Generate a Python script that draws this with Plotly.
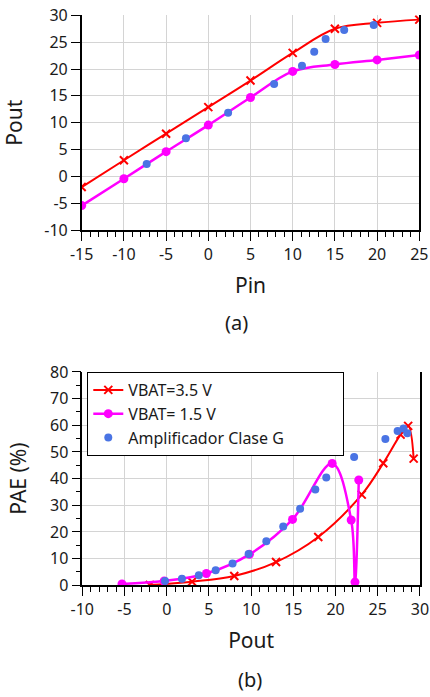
import plotly.graph_objects as go

# ---------------- (a) Pout vs Pin ----------------
pin = [-15, -10, -5, 0, 5, 10, 15, 20, 25]
pout_35 = [-2.0, 3.0, 7.95, 12.9, 17.85, 23.0, 27.5, 28.6, 29.2]
pout_15 = [-5.45, -0.45, 4.6, 9.55, 14.7, 19.55, 20.85, 21.7, 22.6]
pin_g = [-7.3, -2.65, 2.35, 7.8, 11.1, 12.55, 13.9, 16.1, 19.6]
pout_g = [2.3, 7.1, 11.85, 17.2, 20.6, 23.2, 25.6, 27.25, 28.2]

# ---------------- (b) PAE vs Pout ----------------
pout_b_35 = [-2.0, 3.0, 8.0, 12.95, 17.95, 23.1, 25.65, 27.7, 28.6, 29.25]
pae_35 = [0.1, 1.35, 3.5, 8.7, 18.1, 34.0, 45.8, 56.5, 59.8, 47.5]
pout_b_15 = [-5.3, -0.3, 4.7, 9.8, 14.9, 19.6, 21.85, 22.3, 22.75]
pae_15 = [0.5, 1.6, 4.4, 11.6, 24.7, 45.7, 24.5, 1.2, 39.5]
pout_b_g = [-0.2, 1.8, 3.8, 5.8, 7.8, 9.7, 11.8, 13.8, 15.8, 17.6, 18.9,
            22.2, 25.9, 27.35, 28.05, 28.5]
pae_g = [1.6, 2.45, 3.8, 5.6, 8.2, 11.7, 16.5, 22.0, 28.7, 35.9, 40.4,
         48.1, 54.9, 57.9, 58.8, 57.0]

names = ["VBAT=3.5 V", "VBAT= 1.5 V", "Amplificador Clase G"]

# tick labels (plain hyphen minus, as in the reference)
xa_ticks = [-15, -10, -5, 0, 5, 10, 15, 20, 25]
xa_labels = ["-15", "-10", "-5", "0", "5", "10", "15", "20", "25"]
ya_ticks = [-10, -5, 0, 5, 10, 15, 20, 25, 30]
ya_labels = ["-10", "-5", "0", "5", "10", "15", "20", "25", "30"]
xb_ticks = [-10, -5, 0, 5, 10, 15, 20, 25, 30]
xb_labels = ["-10", "-5", "0", "5", "10", "15", "20", "25", "30"]
yb_ticks = [0, 10, 20, 30, 40, 50, 60, 70, 80]
yb_labels = ["0", "10", "20", "30", "40", "50", "60", "70", "80"]

RED = "#FF0000"
MAG = "#FF00FF"
BLUE = "#4A74E4"
FONT = "Noto Sans"
TXT = "#1a1a1a"
GRID = "#D4D4D4"

fig = go.Figure()

red_marker = dict(symbol="x-thin", size=8, line=dict(width=2, color=RED), color=RED)
mag_marker = dict(symbol="circle", size=9, color=MAG)
blue_marker = dict(symbol="circle", size=8, color=BLUE)

# (a)
fig.add_trace(go.Scatter(x=pin, y=pout_35, mode="lines+markers", name=names[0],
                         line=dict(color=RED, width=2, shape="spline"),
                         marker=red_marker, showlegend=False,
                         xaxis="x", yaxis="y"))
fig.add_trace(go.Scatter(x=pin, y=pout_15, mode="lines+markers", name=names[1],
                         line=dict(color=MAG, width=2.5, shape="spline"),
                         marker=mag_marker, showlegend=False,
                         xaxis="x", yaxis="y"))
fig.add_trace(go.Scatter(x=pin_g, y=pout_g, mode="markers", name=names[2],
                         marker=blue_marker, showlegend=False,
                         xaxis="x", yaxis="y"))

# (b)
fig.add_trace(go.Scatter(x=pout_b_35, y=pae_35, mode="lines+markers", name=names[0],
                         line=dict(color=RED, width=2, shape="spline"),
                         marker=red_marker, xaxis="x2", yaxis="y2"))
fig.add_trace(go.Scatter(x=pout_b_15, y=pae_15, mode="lines+markers", name=names[1],
                         line=dict(color=MAG, width=2.5, shape="spline"),
                         marker=mag_marker, xaxis="x2", yaxis="y2"))
fig.add_trace(go.Scatter(x=pout_b_g, y=pae_g, mode="markers", name=names[2],
                         marker=blue_marker, xaxis="x2", yaxis="y2"))

tickfont = dict(family=FONT, size=16, color=TXT)
titlefont = dict(family=FONT, size=21, color=TXT)

xcommon = dict(showline=True, linecolor="black", linewidth=1.5, mirror=False,
               showgrid=True, gridcolor=GRID, gridwidth=1,
               ticks="outside", ticklen=9, tickcolor="black", tickwidth=1,
               tickfont=tickfont, zeroline=False, automargin=False,
               tickmode="array",
               minor=dict(dtick=1, tick0=0, ticks="outside", ticklen=5,
                          tickcolor="black", tickwidth=1, showgrid=False))
ycommon = dict(showline=True, linecolor="black", linewidth=1.5, mirror=True,
               showgrid=True, gridcolor=GRID, gridwidth=1,
               ticks="outside", ticklen=9, tickcolor="black", tickwidth=1,
               tickfont=tickfont, zeroline=False, automargin=False,
               tickmode="array")

fig.update_layout(
    width=430, height=697,
    margin=dict(l=0, r=0, t=0, b=0),
    paper_bgcolor="white", plot_bgcolor="white",
    font=dict(family=FONT, color=TXT),
    xaxis=dict(xcommon, domain=[0.190, 0.9751], range=[-15, 25],
               tickvals=xa_ticks, ticktext=xa_labels,
               anchor="y", title=dict(text="Pin", font=titlefont, standoff=14)),
    yaxis=dict(ycommon, domain=[0.670, 0.978], range=[-10, 30],
               tickvals=ya_ticks, ticktext=ya_labels,
               anchor="x", title=dict(text="Pout", font=titlefont, standoff=20)),
    xaxis2=dict(xcommon, domain=[0.1914, 0.9767], range=[-10, 30],
                tickvals=xb_ticks, ticktext=xb_labels,
                anchor="y2", title=dict(text="Pout", font=titlefont, standoff=14)),
    yaxis2=dict(ycommon, domain=[0.1603, 0.4663], range=[0, 80],
                tickvals=yb_ticks, ticktext=yb_labels,
                anchor="x2", title=dict(text="PAE (%)", font=titlefont, standoff=18),
                minor=dict(dtick=5, tick0=0, ticks="outside", ticklen=5,
                           tickcolor="black", tickwidth=1, showgrid=False)),
    legend=dict(x=0.203, y=0.4663, xanchor="left", yanchor="top",
                orientation="h", entrywidth=210,
                bgcolor="white", bordercolor="black", borderwidth=1,
                font=dict(family=FONT, size=16, color=TXT)),
    annotations=[
        dict(text="(a)", x=0.551, y=0.5366, xref="paper", yref="paper",
             showarrow=False, font=dict(family=FONT, size=20, color=TXT),
             xanchor="center", yanchor="middle"),
        dict(text="(b)", x=0.5814, y=0.0244, xref="paper", yref="paper",
             showarrow=False, font=dict(family=FONT, size=20, color=TXT),
             xanchor="center", yanchor="middle"),
    ],
)

fig.write_html("out.html")
